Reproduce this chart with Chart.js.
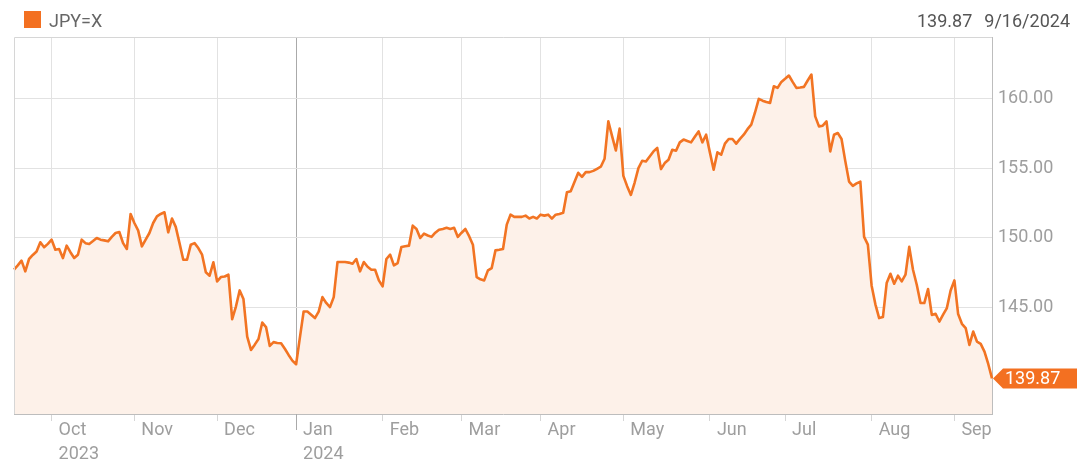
<!DOCTYPE html>
<html>
<head>
<meta charset="utf-8">
<script src="https://cdn.jsdelivr.net/npm/chart.js@4.4.1/dist/chart.umd.min.js"></script>
<style>
  body { margin: 0; background: #fff; font-family: Roboto, sans-serif; }
  #wrap { position: relative; width: 1084px; height: 460px; }
  #chart { position: absolute; left: 0; top: 0; }
  .legend { position: absolute; left: 24px; top: 11px; font-size: 18px; line-height: 20px; color: #666; }
  .legend i { display: inline-block; width: 17px; height: 17px; background: #f37021; vertical-align: top; margin-right: 8px; }
  .last { position: absolute; right: 14px; top: 11px; font-size: 18px; line-height: 20px; color: #555; }
  .last span + span { margin-left: 12px; }
</style>
</head>
<body>
<div id="wrap">
  <canvas id="chart" width="1084" height="460"></canvas>
  <div class="legend"><i></i><span id="seriesName"></span></div>
  <div class="last"><span id="lastValue"></span><span id="lastDate"></span></div>
</div>
<script>
// JPY=X daily closes, one array per month (weekdays)
const sep23 = [147.69, 148.0, 148.34, 147.57, 148.46, 148.75, 149.0, 149.66, 149.3, 149.55];
const oct23 = [149.85, 149.13, 149.18, 148.53, 149.42, 148.95, 148.53, 148.77, 149.85, 149.6, 149.54,
  149.75, 149.97, 149.85, 149.8, 149.73, 150.05, 150.33, 150.4, 149.6, 149.18, 151.7];
const nov23 = [151.05, 150.52, 149.37, 149.85, 150.33, 151.05, 151.53, 151.7, 151.82, 150.38, 151.37,
  150.77, 149.6, 148.41, 148.41, 149.49, 149.6, 149.25, 148.77, 147.5, 147.26, 148.22];
const dec23 = [146.85, 147.16, 147.2, 147.33, 144.13, 145.04, 146.2, 145.58, 142.88, 141.92, 142.3,
  142.7, 143.89, 143.56, 142.21, 142.48, 142.42, 142.4, 142.0, 141.56, 141.15];
const jan24 = [140.89, 142.8, 144.68, 144.68, 144.45, 144.21, 144.68, 145.72, 145.3, 145.0, 145.72,
  148.24, 148.24, 148.24, 148.2, 148.12, 148.46, 147.57, 148.24, 147.9, 147.69, 147.69, 146.92];
const feb24 = [146.49, 148.46, 148.77, 148.0, 148.17, 149.33, 149.38, 149.42, 150.86, 150.62, 149.97,
  150.28, 150.15, 150.05, 150.35, 150.57, 150.62, 150.7, 150.62, 150.7, 150.05];
const mar24 = [150.35, 150.62, 150.1, 149.49, 147.16, 147.0, 146.92, 147.64, 147.81, 149.08, 149.12,
  149.18, 150.93, 151.65, 151.49, 151.49, 151.49, 151.58, 151.37, 151.49, 151.37];
const apr24 = [151.65, 151.58, 151.65, 151.37, 151.65, 151.7, 151.78, 153.26, 153.33, 154.0, 154.66,
  154.37, 154.71, 154.71, 154.8, 154.95, 155.1, 155.67, 158.36, 157.3, 156.27, 157.84];
const may24 = [154.44, 153.7, 153.07, 153.96, 155.0, 155.53, 155.48, 155.84, 156.2, 156.45, 154.93,
  155.36, 155.6, 156.32, 156.25, 156.85, 157.05, 156.95, 156.85, 157.25, 157.64, 156.85, 157.4];
const jun24 = [156.13, 154.88, 156.13, 155.96, 156.76, 157.09, 157.09, 156.76, 157.1, 157.4,
  157.8, 158.13, 159.0, 159.98, 159.85, 159.75, 159.69, 160.89, 160.77, 161.2];
const jul24 = [161.42, 161.66, 161.2, 160.77, 160.8, 160.84, 161.3, 161.73, 158.72, 158.0, 158.05,
  158.36, 156.2, 157.4, 157.52, 157.09, 155.5, 154.03, 153.72, 153.9, 154.03, 150.05, 149.49];
const aug24 = [146.54, 145.2, 144.21, 144.28, 146.73, 147.4, 146.68, 147.26, 146.85, 147.33, 149.33,
  147.69, 146.61, 145.29, 145.29, 146.3, 144.44, 144.52, 143.96, 144.45, 144.93, 146.2];
const sep24 = [146.92, 144.5, 143.8, 143.49, 142.28, 143.24, 142.52, 142.35, 141.8, 140.91, 139.87];

const monthValues = [sep23, oct23, nov23, dec23, jan24, feb24, mar24, apr24, may24, jun24, jul24, aug24, sep24];
const monthNames = ['Sep', 'Oct', 'Nov', 'Dec', 'Jan', 'Feb', 'Mar', 'Apr', 'May', 'Jun', 'Jul', 'Aug', 'Sep'];
const monthYears = ['', '2023', '', '', '2024', '', '', '', '', '', '', '', ''];
const yTicks = [145, 150, 155, 160];

const seriesName = 'JPY=X';
const lastDate = '9/16/2024';

const ORANGE = '#f37021';

// flatten months into one series
const labels = [];
const values = [];
const monthStarts = [];
monthValues.forEach((arr, m) => {
  monthStarts.push(values.length);
  arr.forEach(v => { labels.push(monthNames[m]); values.push(v); });
});
const yearIdx = monthStarts[monthYears.indexOf('2024')];
const lastVal = values[values.length - 1];

document.getElementById('seriesName').textContent = seriesName;
document.getElementById('lastValue').textContent = lastVal.toFixed(2);
document.getElementById('lastDate').textContent = lastDate;

Chart.defaults.font.family = 'Roboto, sans-serif';
Chart.defaults.font.size = 18;

const frame = {
  id: 'frame',
  afterDatasetsDraw(chart) {
    const { ctx, chartArea: a, scales: { x } } = chart;
    ctx.save();
    ctx.lineWidth = 1;
    ctx.strokeStyle = '#d6d6d6';
    ctx.beginPath();
    ctx.moveTo(a.left + 0.5, a.bottom);
    ctx.lineTo(a.left + 0.5, a.top + 0.5);
    ctx.lineTo(a.right, a.top + 0.5);
    ctx.stroke();
    // longer tick at the year change
    const jx = Math.round(x.getPixelForValue(yearIdx)) + 0.5;
    ctx.strokeStyle = '#aaa';
    ctx.beginPath();
    ctx.moveTo(jx, a.bottom);
    ctx.lineTo(jx, a.bottom + 16);
    ctx.stroke();
    ctx.restore();
  },
  afterDraw(chart) {
    const { ctx, chartArea: a, scales: { y } } = chart;
    const py = y.getPixelForValue(lastVal);
    const px = a.right + 1;
    ctx.save();
    ctx.fillStyle = ORANGE;
    ctx.beginPath();
    ctx.moveTo(px, py);
    ctx.lineTo(px + 10, py - 10);
    ctx.lineTo(chart.width - 7, py - 10);
    ctx.lineTo(chart.width - 7, py + 10);
    ctx.lineTo(px + 10, py + 10);
    ctx.closePath();
    ctx.fill();
    ctx.fillStyle = '#fff';
    ctx.font = '18px Roboto, sans-serif';
    ctx.textBaseline = 'middle';
    ctx.fillText(lastVal.toFixed(2), px + 12, py + 1);
    ctx.restore();
  }
};

new Chart(document.getElementById('chart'), {
  type: 'line',
  data: {
    labels: labels,
    datasets: [{
      label: seriesName,
      data: values,
      borderColor: '#f27423',
      borderWidth: 2.6,
      backgroundColor: '#fdf1e9',
      fill: 'start',
      pointRadius: 0,
      tension: 0,
      borderJoinStyle: 'round'
    }]
  },
  options: {
    responsive: false,
    animation: false,
    layout: { padding: { top: 37, left: 14, right: 0, bottom: 0 } },
    plugins: {
      legend: { display: false },
      tooltip: { enabled: false }
    },
    scales: {
      x: {
        type: 'category',
        offset: false,
        afterBuildTicks: (axis) => {
          axis.ticks = monthStarts.slice(1).map(v => ({ value: v }));
        },
        afterFit: (axis) => { axis.height = 46; },
        grid: {
          color: (c) => c.tick && c.tick.value === yearIdx ? '#aaa' : '#e2e2e2',
          tickColor: (c) => c.tick && c.tick.value === yearIdx ? '#aaa' : '#d6d6d6',
          tickLength: 7,
          offset: false
        },
        border: { color: '#bdbdbd' },
        ticks: {
          autoSkip: false,
          maxRotation: 0,
          align: 'start',
          labelOffset: 7,
          padding: -2,
          color: '#9e9e9e',
          font: { size: 18, lineHeight: 1.3 },
          callback: function (value) {
            const m = monthStarts.indexOf(value);
            return monthYears[m] ? [monthNames[m], monthYears[m]] : monthNames[m];
          }
        }
      },
      y: {
        position: 'right',
        min: 137.31,
        max: 164.43,
        afterFit: (axis) => { axis.width = 92; },
        afterBuildTicks: (axis) => {
          axis.ticks = yTicks.map(v => ({ value: v }));
        },
        grid: { color: '#e2e2e2', drawTicks: false },
        border: { color: '#bdbdbd' },
        ticks: {
          padding: 6,
          color: '#9e9e9e',
          font: { size: 18 },
          callback: (v) => v.toFixed(2)
        }
      }
    }
  },
  plugins: [frame]
});
</script>
</body>
</html>
